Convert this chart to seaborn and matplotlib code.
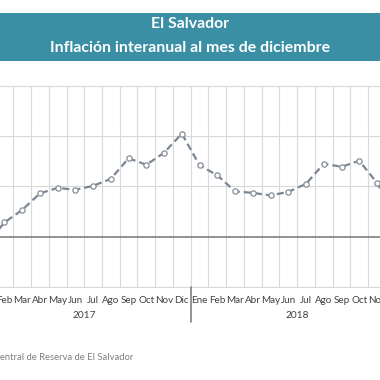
import matplotlib
matplotlib.use("Agg")
import matplotlib.pyplot as plt
import seaborn as sns
import pandas as pd
from matplotlib.patches import Rectangle

months = ["Ene", "Feb", "Mar", "Abr", "May", "Jun", "Jul", "Ago", "Sep", "Oct", "Nov", "Dic"]
years = ["2017", "2018"]
infl_2017 = [-0.15, 0.28, 0.53, 0.86, 0.97, 0.93, 1.01, 1.15, 1.56, 1.43, 1.67, 2.05]
infl_2018 = [1.42, 1.22, 0.90, 0.87, 0.82, 0.89, 1.05, 1.45, 1.39, 1.51, 1.07, 0.44]
title_lines = ["El Salvador", "Inflación interanual al mes de diciembre"]
source = "Fuente: Banco Central de Reserva de El Salvador"

values = infl_2017 + infl_2018
labels = months * len(years)
df = pd.DataFrame({"idx": range(len(values)), "val": values, "mes": labels})

sns.set_style("white")
plt.rcParams["font.family"] = ["Lato", "DejaVu Sans"]

W = H = 380
fig = plt.figure(figsize=(3.8, 3.8), dpi=100)

# axes extends beyond figure edges (cropped look)
left_px, right_px = -22.18, 403.6
top_px, bot_px = 86.0, 286.7
ax = fig.add_axes([left_px / W, (H - bot_px) / H, (right_px - left_px) / W, (bot_px - top_px) / H])

line_col = "#7b8693"
sns.lineplot(data=df, x="idx", y="val", ax=ax, color=line_col, linewidth=1.6,
             linestyle=(0, (3.2, 1.8)), marker="o", markersize=3.8,
             markerfacecolor="white", markeredgecolor="#858e98", markeredgewidth=0.9,
             zorder=5)

n = len(values)
ax.set_xlim(-0.5, n - 0.5)
ax.set_ylim(-1, 3)

grid_col = "#d9d9d9"
for yv in [1, 2, 3, -1]:
    ax.axhline(yv, color=grid_col, linewidth=0.8, zorder=1, clip_on=False)
ax.axhline(0, color="#7f7f7f", linewidth=1.2, zorder=2)
for k in range(n + 1):
    ax.axvline(k - 0.5, color=grid_col, linewidth=0.8, zorder=1)

for s in ax.spines.values():
    s.set_visible(False)

ax.set_xticks(range(n))
ax.set_xticklabels(labels, fontsize=7.1, color="#404040")
ax.tick_params(axis="x", length=0, pad=6.5)
ax.set_yticks([])
ax.set_xlabel("")
ax.set_ylabel("")

trans = ax.get_xaxis_transform()
# year separators below the plot
sep_h = (321.7 - bot_px) / (bot_px - top_px)
for k in range(len(years) + 1):
    ax.plot([k * 12 - 0.5] * 2, [0, -sep_h], transform=trans, color="#7f7f7f",
            linewidth=1.2, clip_on=False)
year_y = -(316 - bot_px) / (bot_px - top_px)
for k, yr in enumerate(years):
    ax.text(k * 12 + 5.5, year_y, yr, transform=trans, ha="center", va="center",
            fontsize=7.3, color="#404040")

# title banner
fig.patches.append(Rectangle((0, (H - 61) / H), 1, (61 - 12.7) / H, transform=fig.transFigure,
                             facecolor="#3b8fa4", edgecolor="none", zorder=0))
fig.text(0.5, (H - 23.5) / H, title_lines[0], ha="center", va="center", color="white",
         fontsize=11.4, fontweight="bold")
fig.text(0.5, (H - 47.5) / H, title_lines[1], ha="center", va="center", color="white",
         fontsize=11.4, fontweight="bold")

fig.text(133 / W, (H - 357) / H, source, ha="right", va="center", color="#808080", fontsize=6.8)

fig.savefig("out.png", dpi=100)
